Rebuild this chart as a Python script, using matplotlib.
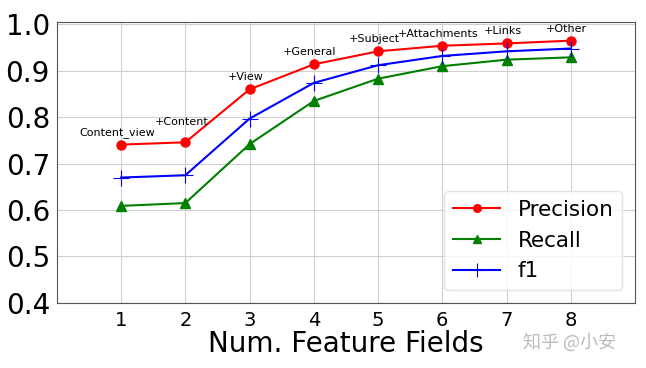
import matplotlib.pyplot as plt

# data
fields = [1, 2, 3, 4, 5, 6, 7, 8]
precision = [0.741, 0.746, 0.860, 0.914, 0.942, 0.954, 0.959, 0.965]
recall = [0.609, 0.615, 0.742, 0.835, 0.883, 0.910, 0.924, 0.929]
f1 = [0.670, 0.675, 0.797, 0.874, 0.912, 0.932, 0.942, 0.948]
field_names = ['Content_view', '+Content', '+View', '+General', '+Subject',
               '+Attachments', '+Links', '+Other']

fig = plt.figure(figsize=(6.46, 3.68), dpi=100)
ax = fig.add_axes([0.088, 0.177, 0.895, 0.763])

ax.plot(fields, precision, color='red', marker='o', markersize=6.5, linewidth=1.5, label='Precision')
ax.plot(fields, recall, color='green', marker='^', markersize=7, linewidth=1.5, label='Recall')
ax.plot(fields, f1, color='blue', marker='+', markersize=12, markeredgewidth=0.8, linewidth=1.5, label='f1')

# field name above each precision point
for i, (x, y, name) in enumerate(zip(fields, precision, field_names)):
    dy = 11 if i == 1 else 5
    ax.annotate(name, (x, y), xytext=(-3, dy), textcoords='offset points',
                ha='center', va='bottom', fontsize=8)

ax.set_xlim(0, 9)
ax.set_ylim(0.4, 1.005)
ax.set_xticks(fields)
ax.set_yticks([0.4, 0.5, 0.6, 0.7, 0.8, 0.9, 1.0])
ax.set_yticklabels(['0.4', '0.5', '0.6', '0.7', '0.8', '0.9', '1.0'])
ax.tick_params(axis='y', labelsize=20, length=0, pad=5)
ax.tick_params(axis='x', labelsize=14, length=0, pad=6)
ax.set_xlabel('Num. Feature Fields', fontsize=20, labelpad=0)
ax.grid(True, color='#d0d0d0', linewidth=0.8)
for s in ax.spines.values():
    s.set_color('#555555')

ax.legend(loc='lower right', fontsize=15.5, framealpha=0.8, edgecolor='#dddddd',
          handlelength=2.2, borderaxespad=0.6, markerscale=0.85)

fig.text(0.81, 0.07, '知乎 @小安', fontsize=13, color='#bbbbbb',
         family=['Noto Sans CJK SC', 'DejaVu Sans'], va='center')

fig.savefig('out.png', dpi=100)
